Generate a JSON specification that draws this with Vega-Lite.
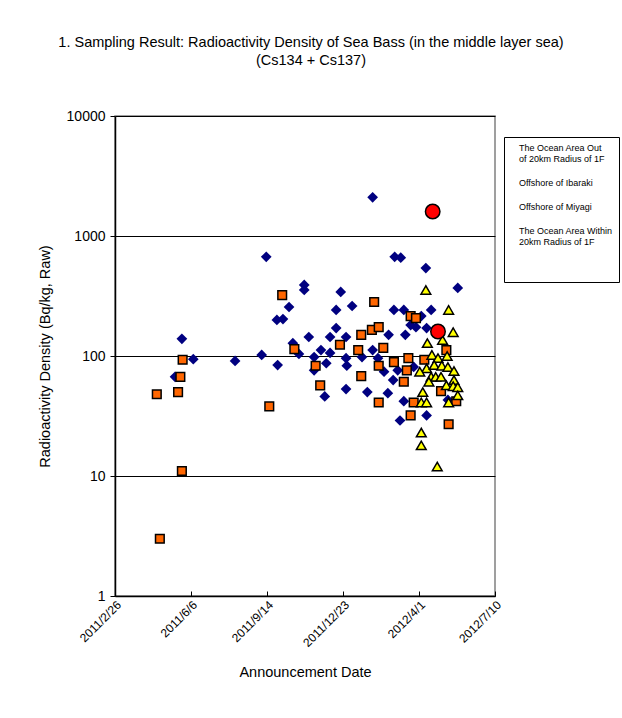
{
  "$schema": "https://vega.github.io/schema/vega-lite/v6.json",
  "width": 380,
  "height": 480,
  "padding": {"left": 37, "top": 34, "right": 5, "bottom": 5},
  "background": "white",
  "title": {
    "text": ["1. Sampling Result: Radioactivity Density of Sea Bass (in the middle layer sea)", "(Cs134 + Cs137)"],
    "font": "Liberation Sans",
    "fontSize": 14.5,
    "fontWeight": "normal",
    "color": "black",
    "lineHeight": 18,
    "anchor": "middle",
    "dx": 6,
    "offset": 41
  },
  "config": {
    "view": {"stroke": "#808080", "strokeWidth": 1.5},
    "axis": {"labelFont": "Liberation Sans", "titleFont": "Liberation Sans", "labelColor": "black", "titleColor": "black", "titleFontWeight": "normal", "domainColor": "black", "tickColor": "black"}
  },
  "datasets": {
    "samples": [
      {"area": "The Ocean Area Out of 20km Radius of 1F", "date": "2011-05-25", "value": 139},
      {"area": "The Ocean Area Out of 20km Radius of 1F", "date": "2011-06-09", "value": 94},
      {"area": "The Ocean Area Out of 20km Radius of 1F", "date": "2011-05-16", "value": 67},
      {"area": "The Ocean Area Out of 20km Radius of 1F", "date": "2011-08-03", "value": 91},
      {"area": "The Ocean Area Out of 20km Radius of 1F", "date": "2011-09-07", "value": 102},
      {"area": "The Ocean Area Out of 20km Radius of 1F", "date": "2011-09-13", "value": 670},
      {"area": "The Ocean Area Out of 20km Radius of 1F", "date": "2011-09-28", "value": 84},
      {"area": "The Ocean Area Out of 20km Radius of 1F", "date": "2011-09-27", "value": 200},
      {"area": "The Ocean Area Out of 20km Radius of 1F", "date": "2011-10-05", "value": 203},
      {"area": "The Ocean Area Out of 20km Radius of 1F", "date": "2011-10-13", "value": 256},
      {"area": "The Ocean Area Out of 20km Radius of 1F", "date": "2011-10-18", "value": 128},
      {"area": "The Ocean Area Out of 20km Radius of 1F", "date": "2011-10-26", "value": 104},
      {"area": "The Ocean Area Out of 20km Radius of 1F", "date": "2011-11-02", "value": 391},
      {"area": "The Ocean Area Out of 20km Radius of 1F", "date": "2011-11-02", "value": 355},
      {"area": "The Ocean Area Out of 20km Radius of 1F", "date": "2011-11-08", "value": 144},
      {"area": "The Ocean Area Out of 20km Radius of 1F", "date": "2011-11-15", "value": 98},
      {"area": "The Ocean Area Out of 20km Radius of 1F", "date": "2011-11-15", "value": 76},
      {"area": "The Ocean Area Out of 20km Radius of 1F", "date": "2011-11-24", "value": 112},
      {"area": "The Ocean Area Out of 20km Radius of 1F", "date": "2011-11-29", "value": 46},
      {"area": "The Ocean Area Out of 20km Radius of 1F", "date": "2011-12-01", "value": 87},
      {"area": "The Ocean Area Out of 20km Radius of 1F", "date": "2011-12-06", "value": 106},
      {"area": "The Ocean Area Out of 20km Radius of 1F", "date": "2011-12-06", "value": 144},
      {"area": "The Ocean Area Out of 20km Radius of 1F", "date": "2011-12-14", "value": 242},
      {"area": "The Ocean Area Out of 20km Radius of 1F", "date": "2011-12-14", "value": 171},
      {"area": "The Ocean Area Out of 20km Radius of 1F", "date": "2011-12-20", "value": 342},
      {"area": "The Ocean Area Out of 20km Radius of 1F", "date": "2011-12-27", "value": 144},
      {"area": "The Ocean Area Out of 20km Radius of 1F", "date": "2011-12-27", "value": 96},
      {"area": "The Ocean Area Out of 20km Radius of 1F", "date": "2011-12-28", "value": 83},
      {"area": "The Ocean Area Out of 20km Radius of 1F", "date": "2011-12-27", "value": 53},
      {"area": "The Ocean Area Out of 20km Radius of 1F", "date": "2012-01-04", "value": 261},
      {"area": "The Ocean Area Out of 20km Radius of 1F", "date": "2012-01-17", "value": 98},
      {"area": "The Ocean Area Out of 20km Radius of 1F", "date": "2012-01-24", "value": 50},
      {"area": "The Ocean Area Out of 20km Radius of 1F", "date": "2012-01-31", "value": 2100},
      {"area": "The Ocean Area Out of 20km Radius of 1F", "date": "2012-01-31", "value": 112},
      {"area": "The Ocean Area Out of 20km Radius of 1F", "date": "2012-02-07", "value": 96},
      {"area": "The Ocean Area Out of 20km Radius of 1F", "date": "2012-02-15", "value": 74},
      {"area": "The Ocean Area Out of 20km Radius of 1F", "date": "2012-02-20", "value": 49},
      {"area": "The Ocean Area Out of 20km Radius of 1F", "date": "2012-02-21", "value": 150},
      {"area": "The Ocean Area Out of 20km Radius of 1F", "date": "2012-02-27", "value": 63},
      {"area": "The Ocean Area Out of 20km Radius of 1F", "date": "2012-02-28", "value": 242},
      {"area": "The Ocean Area Out of 20km Radius of 1F", "date": "2012-02-29", "value": 670},
      {"area": "The Ocean Area Out of 20km Radius of 1F", "date": "2012-03-08", "value": 660},
      {"area": "The Ocean Area Out of 20km Radius of 1F", "date": "2012-03-04", "value": 76},
      {"area": "The Ocean Area Out of 20km Radius of 1F", "date": "2012-03-07", "value": 29},
      {"area": "The Ocean Area Out of 20km Radius of 1F", "date": "2012-03-12", "value": 242},
      {"area": "The Ocean Area Out of 20km Radius of 1F", "date": "2012-03-12", "value": 42},
      {"area": "The Ocean Area Out of 20km Radius of 1F", "date": "2012-03-14", "value": 150},
      {"area": "The Ocean Area Out of 20km Radius of 1F", "date": "2012-03-21", "value": 181},
      {"area": "The Ocean Area Out of 20km Radius of 1F", "date": "2012-03-28", "value": 174},
      {"area": "The Ocean Area Out of 20km Radius of 1F", "date": "2012-04-04", "value": 215},
      {"area": "The Ocean Area Out of 20km Radius of 1F", "date": "2012-04-11", "value": 171},
      {"area": "The Ocean Area Out of 20km Radius of 1F", "date": "2012-04-10", "value": 541},
      {"area": "The Ocean Area Out of 20km Radius of 1F", "date": "2012-04-17", "value": 242},
      {"area": "The Ocean Area Out of 20km Radius of 1F", "date": "2012-04-11", "value": 32},
      {"area": "The Ocean Area Out of 20km Radius of 1F", "date": "2012-05-09", "value": 43},
      {"area": "The Ocean Area Out of 20km Radius of 1F", "date": "2012-05-22", "value": 369},
      {"area": "The Ocean Area Out of 20km Radius of 1F", "date": "2012-03-25", "value": 81},
      {"area": "Offshore of Ibaraki", "date": "2011-04-22", "value": 48},
      {"area": "Offshore of Ibaraki", "date": "2011-04-26", "value": 3},
      {"area": "Offshore of Ibaraki", "date": "2011-05-20", "value": 50},
      {"area": "Offshore of Ibaraki", "date": "2011-05-23", "value": 67},
      {"area": "Offshore of Ibaraki", "date": "2011-05-26", "value": 93},
      {"area": "Offshore of Ibaraki", "date": "2011-05-25", "value": 11},
      {"area": "Offshore of Ibaraki", "date": "2011-09-17", "value": 38},
      {"area": "Offshore of Ibaraki", "date": "2011-10-04", "value": 322},
      {"area": "Offshore of Ibaraki", "date": "2011-10-20", "value": 114},
      {"area": "Offshore of Ibaraki", "date": "2011-11-17", "value": 83},
      {"area": "Offshore of Ibaraki", "date": "2011-11-23", "value": 57},
      {"area": "Offshore of Ibaraki", "date": "2011-12-19", "value": 124},
      {"area": "Offshore of Ibaraki", "date": "2012-01-16", "value": 150},
      {"area": "Offshore of Ibaraki", "date": "2012-01-12", "value": 112},
      {"area": "Offshore of Ibaraki", "date": "2012-01-16", "value": 68},
      {"area": "Offshore of Ibaraki", "date": "2012-01-30", "value": 165},
      {"area": "Offshore of Ibaraki", "date": "2012-02-08", "value": 174},
      {"area": "Offshore of Ibaraki", "date": "2012-02-02", "value": 282},
      {"area": "Offshore of Ibaraki", "date": "2012-02-08", "value": 83},
      {"area": "Offshore of Ibaraki", "date": "2012-02-14", "value": 117},
      {"area": "Offshore of Ibaraki", "date": "2012-02-08", "value": 41},
      {"area": "Offshore of Ibaraki", "date": "2012-02-28", "value": 89},
      {"area": "Offshore of Ibaraki", "date": "2012-03-12", "value": 61},
      {"area": "Offshore of Ibaraki", "date": "2012-03-18", "value": 96},
      {"area": "Offshore of Ibaraki", "date": "2012-03-16", "value": 76},
      {"area": "Offshore of Ibaraki", "date": "2012-03-21", "value": 215},
      {"area": "Offshore of Ibaraki", "date": "2012-03-28", "value": 207},
      {"area": "Offshore of Ibaraki", "date": "2012-03-21", "value": 32},
      {"area": "Offshore of Ibaraki", "date": "2012-03-25", "value": 41},
      {"area": "Offshore of Ibaraki", "date": "2012-04-08", "value": 93},
      {"area": "Offshore of Ibaraki", "date": "2012-04-30", "value": 51},
      {"area": "Offshore of Ibaraki", "date": "2012-05-07", "value": 112},
      {"area": "Offshore of Ibaraki", "date": "2012-05-10", "value": 27},
      {"area": "Offshore of Ibaraki", "date": "2012-05-20", "value": 42},
      {"area": "Offshore of Miyagi", "date": "2012-04-10", "value": 355},
      {"area": "Offshore of Miyagi", "date": "2012-05-10", "value": 242},
      {"area": "Offshore of Miyagi", "date": "2012-05-16", "value": 158},
      {"area": "Offshore of Miyagi", "date": "2012-04-12", "value": 128},
      {"area": "Offshore of Miyagi", "date": "2012-05-02", "value": 136},
      {"area": "Offshore of Miyagi", "date": "2012-04-18", "value": 102},
      {"area": "Offshore of Miyagi", "date": "2012-04-26", "value": 96},
      {"area": "Offshore of Miyagi", "date": "2012-05-08", "value": 100},
      {"area": "Offshore of Miyagi", "date": "2012-04-11", "value": 79},
      {"area": "Offshore of Miyagi", "date": "2012-04-02", "value": 74},
      {"area": "Offshore of Miyagi", "date": "2012-04-21", "value": 84},
      {"area": "Offshore of Miyagi", "date": "2012-05-01", "value": 83},
      {"area": "Offshore of Miyagi", "date": "2012-05-09", "value": 81},
      {"area": "Offshore of Miyagi", "date": "2012-05-17", "value": 75},
      {"area": "Offshore of Miyagi", "date": "2012-04-17", "value": 67},
      {"area": "Offshore of Miyagi", "date": "2012-04-23", "value": 67},
      {"area": "Offshore of Miyagi", "date": "2012-04-30", "value": 67},
      {"area": "Offshore of Miyagi", "date": "2012-04-14", "value": 61},
      {"area": "Offshore of Miyagi", "date": "2012-05-17", "value": 63},
      {"area": "Offshore of Miyagi", "date": "2012-05-07", "value": 57},
      {"area": "Offshore of Miyagi", "date": "2012-05-16", "value": 56},
      {"area": "Offshore of Miyagi", "date": "2012-05-22", "value": 55},
      {"area": "Offshore of Miyagi", "date": "2012-05-22", "value": 47},
      {"area": "Offshore of Miyagi", "date": "2012-04-06", "value": 50},
      {"area": "Offshore of Miyagi", "date": "2012-04-04", "value": 41},
      {"area": "Offshore of Miyagi", "date": "2012-04-11", "value": 41},
      {"area": "Offshore of Miyagi", "date": "2012-05-10", "value": 41},
      {"area": "Offshore of Miyagi", "date": "2012-04-04", "value": 23},
      {"area": "Offshore of Miyagi", "date": "2012-04-04", "value": 18},
      {"area": "Offshore of Miyagi", "date": "2012-04-25", "value": 12},
      {"area": "The Ocean Area Within 20km Radius of 1F", "date": "2012-04-19", "value": 1600},
      {"area": "The Ocean Area Within 20km Radius of 1F", "date": "2012-04-26", "value": 160}
    ]
  },
  "data": {"name": "samples"},
  "encoding": {
    "x": {
      "field": "date",
      "type": "temporal",
      "scale": {"type": "utc", "domain": [{"year": 2011, "month": 2, "date": 26, "utc": true}, {"year": 2012, "month": 7, "date": 10, "utc": true}]},
      "axis": {
        "title": "Announcement Date",
        "titleFontSize": 14.5,
        "titlePadding": 17,
        "values": [
          {"year": 2011, "month": 2, "date": 26, "utc": true},
          {"year": 2011, "month": 6, "date": 6, "utc": true},
          {"year": 2011, "month": 9, "date": 14, "utc": true},
          {"year": 2011, "month": 12, "date": 23, "utc": true},
          {"year": 2012, "month": 4, "date": 1, "utc": true},
          {"year": 2012, "month": 7, "date": 10, "utc": true}
        ],
        "labelExpr": "utcFormat(datum.value, '%Y/%-m/%-d')",
        "labelAngle": -45,
        "labelFontSize": 12,
        "labelPadding": 8,
        "tickSize": -5,
        "grid": false,
        "domainWidth": 1.5
      }
    },
    "y": {
      "field": "value",
      "type": "quantitative",
      "scale": {"type": "log", "domain": [1, 10000]},
      "axis": {
        "title": "Radioactivity Density (Bq/kg, Raw)",
        "titleFontSize": 14.5,
        "titlePadding": 14,
        "values": [1, 10, 100, 1000, 10000],
        "format": "d",
        "labelFontSize": 14,
        "labelPadding": 5,
        "tickSize": 5,
        "grid": true,
        "gridColor": "black",
        "gridOpacity": 1,
        "domainWidth": 1.5
      }
    },
    "fill": {
      "field": "area",
      "type": "nominal",
      "scale": {
        "domain": ["The Ocean Area Out of 20km Radius of 1F", "Offshore of Ibaraki", "Offshore of Miyagi", "The Ocean Area Within 20km Radius of 1F"],
        "range": ["#000080", "#FF6600", "#FFFF00", "#FF0000"]
      },
      "legend": {
        "title": " ",
        "titleOrient": "bottom",
        "titlePadding": 20,
        "titleFontSize": 9,
        "orient": "none",
        "legendX": 389,
        "legendY": 21,
        "strokeColor": "black",
        "fillColor": "white",
        "padding": 6,
        "symbolSize": 0,
        "symbolOpacity": 0,
        "symbolStrokeWidth": 0,
        "labelOffset": 0,
        "labelFont": "Liberation Sans",
        "labelFontSize": 9,
        "labelColor": "black",
        "labelLimit": 200,
        "rowPadding": 14,
        "labelExpr": "datum.label == 'The Ocean Area Out of 20km Radius of 1F' ? ['The Ocean Area Out', ' of 20km Radius of 1F'] : datum.label == 'The Ocean Area Within 20km Radius of 1F' ? ['The Ocean Area Within', '20km Radius of 1F'] : datum.label"
      }
    },
    "shape": {
      "field": "area",
      "type": "nominal",
      "scale": {
        "domain": ["The Ocean Area Out of 20km Radius of 1F", "Offshore of Ibaraki", "Offshore of Miyagi", "The Ocean Area Within 20km Radius of 1F"],
        "range": ["diamond", "square", "triangle-up", "circle"]
      }
    }
  },
  "layer": [
    {
      "transform": [{"filter": "datum.area == 'The Ocean Area Out of 20km Radius of 1F'"}],
      "mark": {"type": "point", "filled": true, "opacity": 1, "size": 115, "strokeWidth": 0}
    },
    {
      "transform": [{"filter": "datum.area == 'Offshore of Ibaraki'"}],
      "mark": {"type": "point", "filled": true, "opacity": 1, "size": 75, "stroke": "black", "strokeWidth": 1.5}
    },
    {
      "transform": [{"filter": "datum.area == 'Offshore of Miyagi'"}],
      "mark": {"type": "point", "filled": true, "opacity": 1, "size": 95, "stroke": "black", "strokeWidth": 1.5}
    },
    {
      "transform": [{"filter": "datum.area == 'The Ocean Area Within 20km Radius of 1F'"}],
      "mark": {"type": "point", "filled": true, "opacity": 1, "size": 210, "stroke": "black", "strokeWidth": 1.5}
    }
  ]
}
